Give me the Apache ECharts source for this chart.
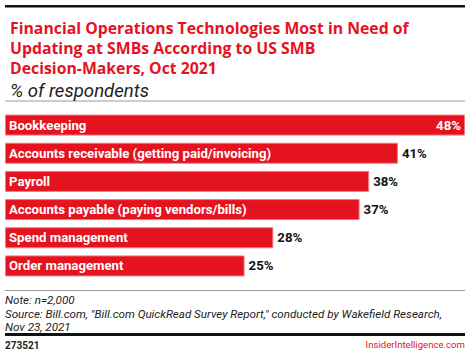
<!DOCTYPE html>
<html>
<head>
<meta charset="utf-8">
<script src="https://cdn.jsdelivr.net/npm/echarts@6/dist/echarts.min.js"></script>
<style>html,body{margin:0;padding:0;background:#fff}#c{width:470px;height:355px}</style>
</head>
<body>
<div id="c"></div>
<script>
const categories = ['Bookkeeping','Accounts receivable (getting paid/invoicing)','Payroll','Accounts payable (paying vendors/bills)','Spend management','Order management'];
const values = [48, 41, 38, 37, 28, 25];
const titleText = 'Financial Operations Technologies Most in Need of\nUpdating at SMBs According to US SMB\nDecision-Makers, Oct 2021';
const subtitleText = '% of respondents';
const noteLines = ['Note: n=2,000','Source: Bill.com, "Bill.com QuickRead Survey Report," conducted by Wakefield Research,','Nov 23, 2021'];
const chartId = '273521';
const brand = 'InsiderIntelligence.com';

const RED = '#e5131f';
const FONT = 'Roboto, "Liberation Sans", sans-serif';
const WIDE = '"Open Sans", Roboto, sans-serif';
const chart = echarts.init(document.getElementById('c'), null, {renderer: 'svg'});

const labelData = values.map((v, i) => ({
  value: v,
  label: i === 0
    ? {position: 'insideRight', color: '#fff', distance: 4}
    : {position: 'right', color: '#111', distance: 4}
}));

chart.setOption({
  animation: false,
  title: [
    {text: titleText, left: 5, top: 12.5, textStyle: {color: RED, fontFamily: WIDE, fontWeight: 'bold', fontSize: 15.8, lineHeight: 20}},
    {text: subtitleText, left: 5, top: 76, textStyle: {color: '#222', fontFamily: FONT, fontStyle: 'italic', fontWeight: 'normal', fontSize: 18.6}}
  ],
  grid: {left: 5, right: 5, top: 111, height: 169},
  xAxis: {type: 'value', min: 0, max: 48, show: false},
  yAxis: {type: 'category', data: categories, inverse: true, show: false},
  series: [
    {
      type: 'bar', data: values, barWidth: 21, silent: true,
      itemStyle: {color: RED, borderColor: '#f27a80', borderWidth: 1},
      label: {show: true, position: 'insideLeft', distance: 4, color: '#fff', fontFamily: FONT, fontWeight: 'bold', fontSize: 13.2,
        formatter: p => categories[p.dataIndex]}
    },
    {
      type: 'bar', data: labelData, barWidth: 21, barGap: '-100%', silent: true,
      itemStyle: {color: 'rgba(0,0,0,0)'},
      label: {show: true, fontFamily: FONT, fontWeight: 'bold', fontSize: 13.2, formatter: '{c}%'}
    }
  ],
  graphic: [
    {type: 'rect', shape: {x: 5, y: 5, width: 460, height: 2.5}, style: {fill: '#111'}},
    {type: 'rect', shape: {x: 5, y: 100.5, width: 460, height: 1}, style: {fill: '#999'}},
    {type: 'rect', shape: {x: 5, y: 290, width: 460, height: 1}, style: {fill: '#999'}},
    {type: 'text', left: 5, top: 293.5, style: {text: noteLines.join('\n'), fill: '#222', font: 'italic 11.6px ' + FONT, lineHeight: 13.5}},
    {type: 'rect', shape: {x: 5, y: 333, width: 460, height: 3}, style: {fill: '#111'}},
    {type: 'text', left: 5, top: 340, style: {text: chartId, fill: '#222', font: 'bold 10px ' + FONT}},
    {type: 'text', right: 5, top: 339, style: {text: brand, fill: RED, font: '9.6px ' + FONT}}
  ]
});
</script>
</body>
</html>
